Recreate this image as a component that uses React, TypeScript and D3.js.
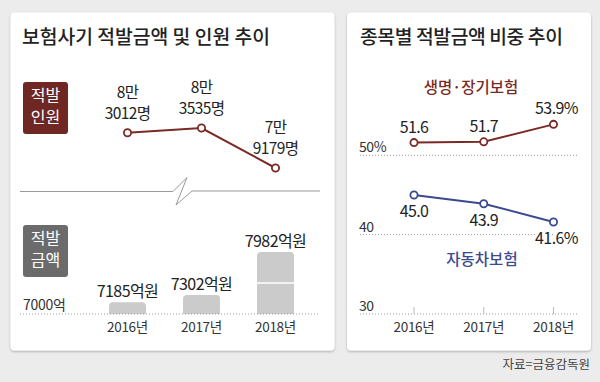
import React from "react";
import * as d3 from "d3";

const years = ["2016년", "2017년", "2018년"];
const people = [83012, 83535, 79179];
const amounts = [7185, 7302, 7982];
const amountBase = 7000;
const lifeShare = [51.6, 51.7, 53.9];
const autoShare = [45.0, 43.9, 41.6];
const shareTicks = [30, 40, 50];

const FONT = "'Noto Sans CJK KR', 'Noto Sans', sans-serif";
const RED = "#7a2a25";
const BLUE = "#3b4a8f";

export default function App() {
  const W = 600, H = 382;

  const xL = d3.scalePoint<string>().domain(years).range([127.5, 275.5]);
  const yPeople = d3.scaleLinear().domain([79179, 83535]).range([168, 128]);
  const yAmt = d3.scaleLinear().domain([amountBase, 7982]).range([314, 252]);
  const barW = 37;

  const xR = d3.scalePoint<string>().domain(years).range([414, 553.5]);
  const yShare = d3.scaleLinear().domain([30, 50]).range([314, 155.3]);

  const peopleLine = d3.line<number>().x((_, i) => xL(years[i])!).y((d) => yPeople(d));
  const shareLine = d3.line<number>().x((_, i) => xR(years[i])!).y((d) => yShare(d));

  const maxAmt = d3.max(amounts)!;
  const breakY = (yAmt(maxAmt) + yAmt(amountBase)) / 2;

  const halo = { paintOrder: "stroke" as const, stroke: "#fff", strokeWidth: 4, strokeLinejoin: "round" as const };
  const val = { fontSize: 16, letterSpacing: -0.6, fill: "#222" };

  return (
    <svg width={W} height={H} style={{ position: "absolute", left: 0, top: 0, fontFamily: FONT }}>
      <defs>
        <filter id="sh" x="-5%" y="-5%" width="110%" height="110%">
          <feDropShadow dx="0" dy="1.2" stdDeviation="1.3" floodColor="#000" floodOpacity="0.28" />
        </filter>
      </defs>
      <rect width={W} height={H} fill="#ececec" />
      <rect x={10.5} y={12.5} width={324} height={338} rx={4} fill="#fff" filter="url(#sh)" />
      <rect x={347} y={12.5} width={244} height={338} rx={4} fill="#fff" filter="url(#sh)" />

      <text x={22} y={44} fontSize={19.3} fontWeight={500} fill="#222">보험사기 적발금액 및 인원 추이</text>
      <text x={360} y={44} fontSize={19.3} fontWeight={500} fill="#222" letterSpacing={-0.4}>종목별 적발금액 비중 추이</text>

      <rect x={23} y={82} width={45} height={52} rx={3} fill="#6e2722" />
      <text x={45.5} y={101} fontSize={16} fill="#fff" textAnchor="middle">적발</text>
      <text x={45.5} y={123} fontSize={16} fill="#fff" textAnchor="middle">인원</text>

      <path d={peopleLine(people)!} fill="none" stroke={RED} strokeWidth={2} />
      {people.map((v, i) => (
        <g key={"p" + i}>
          <circle cx={xL(years[i])} cy={yPeople(v)} r={3.6} fill="#fff" stroke={RED} strokeWidth={1.8} />
          <text x={xL(years[i])} y={yPeople(v) - 35} {...val} fontSize={15.5} textAnchor="middle">
            {Math.floor(v / 10000)}만
          </text>
          <text x={xL(years[i])} y={yPeople(v) - 14} {...val} fontSize={15.5} textAnchor="middle">
            {v % 10000}명
          </text>
        </g>
      ))}

      <path d="M20,191.5 H173 L187,177.5 L176,205 L192,191 H320" fill="none" stroke="#9a9a9a" strokeWidth={1} />

      <rect x={23} y={225} width={45} height={52} rx={3} fill="#6b6b6b" />
      <text x={45.5} y={244} fontSize={16} fill="#fff" textAnchor="middle">적발</text>
      <text x={45.5} y={266} fontSize={16} fill="#fff" textAnchor="middle">금액</text>

      {amounts.map((v, i) => {
        const cx = xL(years[i])!;
        const top = yAmt(v);
        const bottom = yAmt(amountBase);
        const r = Math.min(4, (bottom - top) / 2);
        const x0 = cx - barW / 2, x1 = cx + barW / 2;
        const d = `M${x0},${bottom} V${top + r} Q${x0},${top} ${x0 + r},${top} H${x1 - r} Q${x1},${top} ${x1},${top + r} V${bottom} Z`;
        return (
          <g key={"b" + i}>
            <path d={d} fill="#cbcbcb" />
            {v === maxAmt && <line x1={x0} x2={x1} y1={breakY} y2={breakY} stroke="#fff" strokeWidth={1.5} />}
            <text x={cx} y={top - 5} {...val} textAnchor="middle">{v}억원</text>
            <text x={cx} y={332} fontSize={13.5} letterSpacing={-0.3} fill="#333" textAnchor="middle">{years[i]}</text>
          </g>
        );
      })}
      <line x1={20} x2={320} y1={yAmt(amountBase)} y2={yAmt(amountBase)} stroke="#9a9a9a" strokeWidth={1} strokeDasharray="1,2" />
      <text x={23} y={310} fontSize={14} letterSpacing={-0.3} fill="#333">{amountBase}억</text>

      {shareTicks.map((t) => (
        <g key={"t" + t}>
          <line x1={360} x2={579} y1={yShare(t)} y2={yShare(t)} stroke="#9a9a9a" strokeWidth={1} strokeDasharray="1,2" />
          <text x={359} y={yShare(t) - 3} fontSize={14} letterSpacing={-0.4} fill="#333">{t === 50 ? t + "%" : t}</text>
        </g>
      ))}
      {years.map((y) => (
        <g key={"r" + y}>
          <line x1={xR(y)} x2={xR(y)} y1={yShare(30) - 7} y2={yShare(30)} stroke="#bbb" strokeWidth={1} />
          <text x={xR(y)} y={332} fontSize={13.5} letterSpacing={-0.3} fill="#333" textAnchor="middle">{y}</text>
        </g>
      ))}

      <text x={471} y={93} fontSize={15.5} fontWeight={500} fill={RED} textAnchor="middle">생명·장기보험</text>
      <path d={shareLine(lifeShare)!} fill="none" stroke={RED} strokeWidth={2} />
      {lifeShare.map((v, i) => (
        <g key={"l" + i}>
          <circle cx={xR(years[i])} cy={yShare(v)} r={3.6} fill="#fff" stroke={RED} strokeWidth={1.8} />
          <text x={xR(years[i])! + (i === 2 ? 3 : 0)} y={yShare(v) - 10} {...val} textAnchor="middle">
            {v.toFixed(1)}{i === years.length - 1 ? "%" : ""}
          </text>
        </g>
      ))}

      <path d={shareLine(autoShare)!} fill="none" stroke={BLUE} strokeWidth={2} />
      {autoShare.map((v, i) => (
        <g key={"a" + i}>
          <circle cx={xR(years[i])} cy={yShare(v)} r={3.6} fill="#fff" stroke={BLUE} strokeWidth={1.8} />
          <text x={xR(years[i])! + (i === 2 ? 3 : 0)} y={yShare(v) + 22} {...val} textAnchor="middle" style={halo}>
            {v.toFixed(1)}{i === years.length - 1 ? "%" : ""}
          </text>
        </g>
      ))}
      <text x={482} y={265} fontSize={15.5} fontWeight={500} fill={BLUE} textAnchor="middle">자동차보험</text>

      <text x={590} y={369} fontSize={12.5} fill="#444" textAnchor="end">자료=금융감독원</text>
    </svg>
  );
}
